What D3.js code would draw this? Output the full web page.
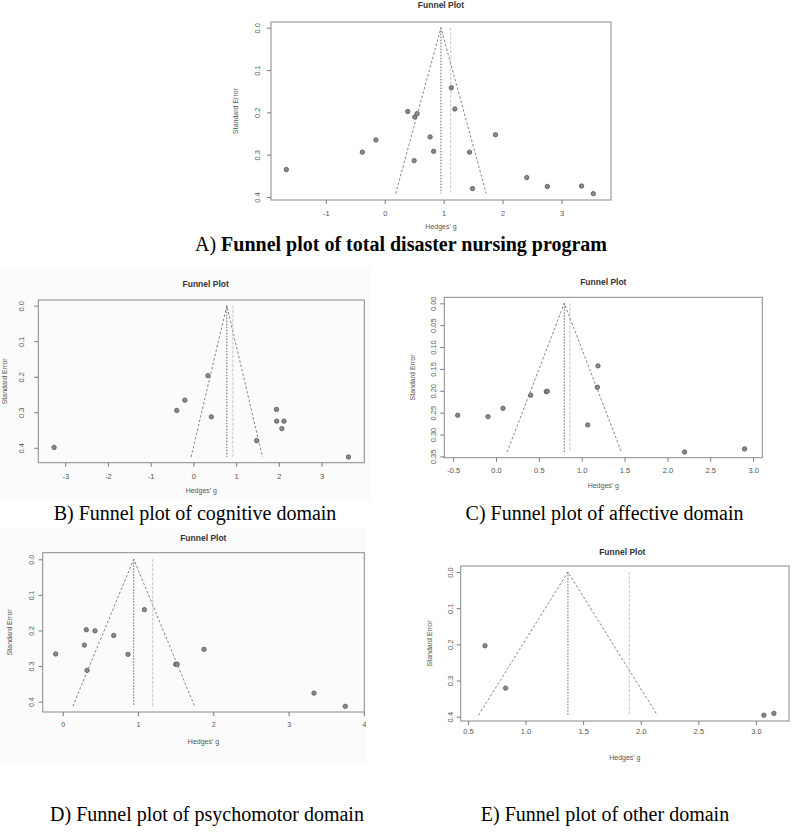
<!DOCTYPE html>
<html>
<head>
<meta charset="utf-8">
<script src="https://cdn.jsdelivr.net/npm/d3@7"></script>
<style>
  body { margin: 0; background: #fff; }
  svg { display: block; }
</style>
</head>
<body>
<div id="chart"></div>
<script>
// Values (Hedges' g vs standard error)

// A) total disaster nursing program
const totalG  = [-1.67, -0.38, -0.15, 0.39, 0.51, 0.55, 0.50, 0.77, 0.83, 1.13, 1.19, 1.44, 1.88, 1.49, 2.41, 2.76, 3.34, 3.54];
const totalSE = [0.335, 0.294, 0.265, 0.198, 0.211, 0.203, 0.314, 0.258, 0.292, 0.142, 0.192, 0.294, 0.253, 0.380, 0.354, 0.375, 0.374, 0.392];
const totalEst = [0.954, 1.12];           // pooled estimate, second estimate (grey line)
const totalXTicks = [-1, 0, 1, 2, 3];
const totalYTicks = [0, 0.1, 0.2, 0.3, 0.4];
const totalXDomain = [-1.93, 3.84];
const totalYDomain = [-0.0135, 0.407];

// B) cognitive domain
const cogG  = [-3.26, -0.39, -0.20, 0.34, 0.42, 1.48, 1.945, 1.95, 2.12, 2.07, 3.63];
const cogSE = [0.399, 0.295, 0.266, 0.197, 0.313, 0.380, 0.292, 0.325, 0.325, 0.346, 0.426];
const cogEst = [0.782, 0.923];
const cogXTicks = [-3, -2, -1, 0, 1, 2, 3];
const cogYTicks = [0, 0.1, 0.2, 0.3, 0.4];
const cogXDomain = [-3.63, 4.0];
const cogYDomain = [-0.016, 0.442];

// C) affective domain
const affG  = [-0.447, -0.093, 0.082, 0.405, 0.587, 0.599, 1.19, 1.183, 1.07, 2.20, 2.90];
const affSE = [0.256, 0.259, 0.240, 0.210, 0.202, 0.201, 0.143, 0.192, 0.278, 0.340, 0.333];
const affEst = [0.797, 0.863];
const affXTicks = [-0.5, 0, 0.5, 1, 1.5, 2, 2.5, 3];
const affYTicks = [0, 0.05, 0.1, 0.15, 0.2, 0.25, 0.3, 0.35];
const affXDomain = [-0.603, 3.107];
const affYDomain = [-0.0137, 0.353];

// D) psychomotor domain
const psyG  = [-0.093, 0.287, 0.313, 0.429, 0.323, 0.677, 0.867, 1.084, 1.50, 1.52, 1.876, 3.337, 3.753];
const psySE = [0.266, 0.241, 0.198, 0.201, 0.312, 0.214, 0.267, 0.1415, 0.295, 0.295, 0.253, 0.376, 0.413];
const psyEst = [0.943, 1.195];
const psyXTicks = [0, 1, 2, 3, 4];
const psyYTicks = [0, 0.1, 0.2, 0.3, 0.4];
const psyXDomain = [-0.266, 4.005];
const psyYDomain = [-0.0185, 0.429];

// E) other domain
const othG  = [0.648, 0.827, 3.069, 3.156];
const othSE = [0.204, 0.321, 0.396, 0.391];
const othEst = [1.368, 1.90];
const othXTicks = [0.5, 1, 1.5, 2, 2.5, 3];
const othYTicks = [0, 0.1, 0.2, 0.3, 0.4];
const othXDomain = [0.437, 3.287];
const othYDomain = [-0.0166, 0.412];

// Panel layout (pixels)
const panels = [
  { g: totalG, se: totalSE, est: totalEst, xt: totalXTicks, yt: totalYTicks, xd: totalXDomain, yd: totalYDomain,
    xf: d => d.toFixed(0), yf: d => d.toFixed(1),
    box: { l: 271, t: 22, r: 611, b: 200 }, titleX: 441, titleY: 5, tickY: 213, xlabY: 227, ytickX: 257, ylabX: 236, fs: 7.5 },
  { g: cogG, se: cogSE, est: cogEst, xt: cogXTicks, yt: cogYTicks, xd: cogXDomain, yd: cogYDomain,
    xf: d => d.toFixed(0), yf: d => d.toFixed(1),
    box: { l: 38.3, t: 300, r: 364.3, b: 462.7 }, titleX: 205.7, titleY: 284, tickY: 476, xlabY: 491, ytickX: 21, ylabX: 5, fs: 7.5,
    bg: { x: 0, y: 268, w: 370, h: 232 } },
  { g: affG, se: affSE, est: affEst, xt: affXTicks, yt: affYTicks, xd: affXDomain, yd: affYDomain,
    xf: d => d.toFixed(1), yf: d => d.toFixed(2),
    box: { l: 444.3, t: 297.3, r: 762.3, b: 457.7 }, titleX: 603.3, titleY: 282, tickY: 470, xlabY: 486, ytickX: 433, ylabX: 413, fs: 7.5 },
  { g: psyG, se: psySE, est: psyEst, xt: psyXTicks, yt: psyYTicks, xd: psyXDomain, yd: psyYDomain,
    xf: d => d.toFixed(0), yf: d => d.toFixed(1),
    box: { l: 42.7, t: 552.7, r: 364.3, b: 712 }, titleX: 203.3, titleY: 538, tickY: 725, xlabY: 742, ytickX: 32, ylabX: 10, fs: 7,
    bg: { x: 0, y: 528, w: 366, h: 234 } },
  { g: othG, se: othSE, est: othEst, xt: othXTicks, yt: othYTicks, xd: othXDomain, yd: othYDomain,
    xf: d => d.toFixed(1), yf: d => d.toFixed(1),
    box: { l: 460.7, t: 566, r: 789, b: 721 }, titleX: 622.3, titleY: 552, tickY: 731, xlabY: 758, ytickX: 450, ylabX: 430, fs: 7.5 }
];

const svg = d3.select('#chart').append('svg')
  .attr('width', 798)
  .attr('height', 836);

const sans = "'Liberation Sans', Arial, Helvetica, sans-serif";
const serif = "'Liberation Serif', 'Times New Roman', Times, serif";

panels.forEach(p => {
  const g = svg.append('g');

  if (p.bg) {
    g.append('rect')
      .attr('x', p.bg.x).attr('y', p.bg.y)
      .attr('width', p.bg.w).attr('height', p.bg.h)
      .attr('fill', '#fbfbfb');
  }

  const x = d3.scaleLinear().domain(p.xd).range([p.box.l, p.box.r]);
  const y = d3.scaleLinear().domain(p.yd).range([p.box.t, p.box.b]); // SE grows downward

  // x axis
  const xa = g.append('g')
    .attr('transform', 'translate(0,' + p.box.b + ')')
    .call(d3.axisBottom(x).tickValues(p.xt).tickFormat(p.xf).tickSize(4).tickSizeOuter(0));
  xa.select('.domain').remove();
  xa.selectAll('line').attr('stroke', '#777');
  xa.selectAll('text')
    .attr('y', p.tickY - p.box.b)
    .attr('dy', '0.35em')
    .attr('fill', '#555')
    .attr('font-family', sans)
    .attr('font-size', p.fs);

  // y axis, labels parallel to the axis as in R
  const ya = g.append('g')
    .attr('transform', 'translate(' + p.box.l + ',0)')
    .call(d3.axisLeft(y).tickValues(p.yt).tickFormat(p.yf).tickSize(4).tickSizeOuter(0));
  ya.select('.domain').remove();
  ya.selectAll('line').attr('stroke', '#777');
  ya.selectAll('text')
    .attr('x', 0)
    .attr('dy', '0.35em')
    .attr('text-anchor', 'middle')
    .attr('transform', 'translate(' + (p.ytickX - p.box.l) + ',0) rotate(-90)')
    .attr('fill', '#555')
    .attr('font-family', sans)
    .attr('font-size', p.fs);

  // box
  g.append('rect')
    .attr('x', p.box.l).attr('y', p.box.t)
    .attr('width', p.box.r - p.box.l).attr('height', p.box.b - p.box.t)
    .attr('fill', 'none')
    .attr('stroke', '#888')
    .attr('stroke-width', 1);

  // funnel from the pooled estimate down to the largest SE
  const maxSE = d3.max(p.se);
  const est = p.est[0];
  const funnel = [
    [est - 1.96 * maxSE, maxSE],
    [est, 0],
    [est + 1.96 * maxSE, maxSE]
  ];
  g.append('path')
    .datum(funnel)
    .attr('fill', 'none')
    .attr('stroke', '#666')
    .attr('stroke-width', 0.8)
    .attr('stroke-dasharray', '2.5,2')
    .attr('d', d3.line().x(d => x(d[0])).y(d => y(d[1])));

  // vertical line at the pooled estimate (dark, dotted)
  g.append('line')
    .attr('x1', x(est)).attr('x2', x(est))
    .attr('y1', y(0)).attr('y2', y(maxSE))
    .attr('stroke', '#555')
    .attr('stroke-width', 0.9)
    .attr('stroke-dasharray', '1.5,1.5');

  // second estimate (light grey)
  g.append('line')
    .attr('x1', x(p.est[1])).attr('x2', x(p.est[1]))
    .attr('y1', y(0)).attr('y2', y(maxSE))
    .attr('stroke', '#c4c4c4')
    .attr('stroke-width', 1)
    .attr('stroke-dasharray', '3,1.5');

  // studies
  g.selectAll('circle')
    .data(p.g.map((v, i) => ({ g: v, se: p.se[i] })))
    .enter().append('circle')
    .attr('cx', d => x(d.g))
    .attr('cy', d => y(d.se))
    .attr('r', 2.2)
    .attr('fill', '#8a8a8a')
    .attr('stroke', '#555')
    .attr('stroke-width', 0.8);

  // texts
  g.append('text')
    .attr('x', p.titleX).attr('y', p.titleY)
    .attr('dy', '0.35em')
    .attr('text-anchor', 'middle')
    .attr('font-family', sans)
    .attr('font-weight', 'bold')
    .attr('font-size', 8.5)
    .attr('fill', '#333')
    .text('Funnel Plot');

  g.append('text')
    .attr('x', (p.box.l + p.box.r) / 2).attr('y', p.xlabY)
    .attr('dy', '0.35em')
    .attr('text-anchor', 'middle')
    .attr('font-family', sans)
    .attr('font-size', 7)
    .attr('fill', '#555')
    .text("Hedges' g");

  g.append('text')
    .attr('transform', 'translate(' + p.ylabX + ',' + ((p.box.t + p.box.b) / 2) + ') rotate(-90)')
    .attr('dy', '0.35em')
    .attr('text-anchor', 'middle')
    .attr('font-family', sans)
    .attr('font-size', 7)
    .attr('fill', '#555')
    .text('Standard Error');
});

// captions
const capA = svg.append('text')
  .attr('x', 401).attr('y', 251)
  .attr('text-anchor', 'middle')
  .attr('font-family', serif)
  .attr('font-size', 20)
  .attr('fill', '#000');
capA.append('tspan').text('A) ');
capA.append('tspan').attr('font-weight', 'bold').text('Funnel plot of total disaster nursing program');

const captions = [
  { text: 'B) Funnel plot of cognitive domain', x: 195, y: 520 },
  { text: 'C) Funnel plot of affective domain', x: 604.5, y: 520 },
  { text: 'D) Funnel plot of psychomotor domain', x: 207, y: 821 },
  { text: 'E) Funnel plot of other domain', x: 605, y: 821 }
];
svg.selectAll('text.caption')
  .data(captions)
  .enter().append('text')
  .attr('class', 'caption')
  .attr('x', d => d.x).attr('y', d => d.y)
  .attr('text-anchor', 'middle')
  .attr('font-family', serif)
  .attr('font-size', 20)
  .attr('fill', '#000')
  .text(d => d.text);
</script>
</body>
</html>
